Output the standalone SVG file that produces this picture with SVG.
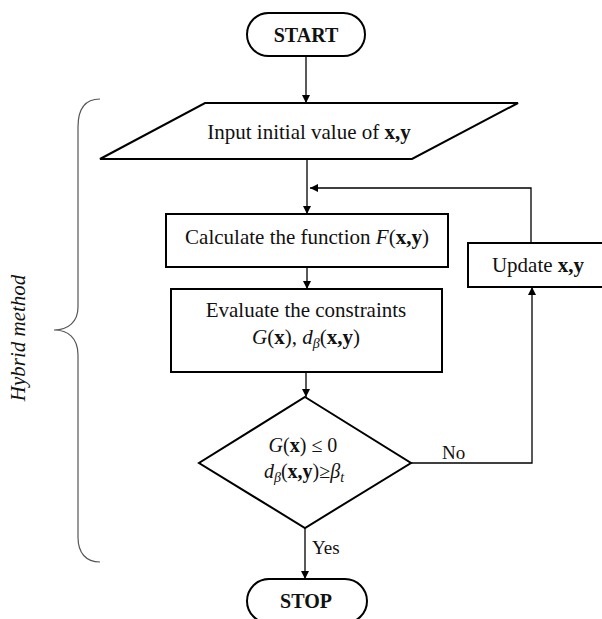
<svg xmlns="http://www.w3.org/2000/svg" width="602" height="619" viewBox="0 0 602 619">
<style>
.shape{fill:#fff;stroke:#000;stroke-width:2}
.conn{fill:none;stroke:#000;stroke-width:1.3}
.brace{fill:none;stroke:#555;stroke-width:1.2}
text{font-family:"Liberation Serif","Times New Roman",serif;font-size:21px;fill:#111}
.b{font-weight:bold}
.i{font-style:italic}
.sub{font-size:14px;font-style:italic}
.lbl{font-size:19px}
.dia{font-size:20px}
.term{font-size:20px;font-weight:bold}
</style>
<defs>
<marker id="ah" viewBox="0 0 10 10" refX="10" refY="5" markerWidth="8" markerHeight="8" markerUnits="userSpaceOnUse" orient="auto">
<path d="M0,0 L10,5 L0,10 z" fill="#000"/>
</marker>
</defs>
<g id="connectors">
<line class="conn" x1="306" y1="56" x2="306" y2="103" marker-end="url(#ah)"/>
<line class="conn" x1="307" y1="159" x2="307" y2="214" marker-end="url(#ah)"/>
<polyline class="conn" points="531,243 531,188 310,188" marker-end="url(#ah)"/>
<line class="conn" x1="307" y1="267" x2="307" y2="289" marker-end="url(#ah)"/>
<line class="conn" x1="306" y1="372" x2="306" y2="397" marker-end="url(#ah)"/>
<polyline class="conn" points="411,463 532,463 532,287" marker-end="url(#ah)"/>
<line class="conn" x1="305" y1="528" x2="305" y2="579" marker-end="url(#ah)"/>
<text x="442" y="459" class="lbl">No</text>
<text x="312" y="554" class="lbl">Yes</text>
</g>
<g id="start">
<rect class="shape" x="247" y="13" width="118" height="43" rx="21.5"/>
<text x="306" y="42" text-anchor="middle" class="term">START</text>
</g>
<g id="input">
<polygon class="shape" points="205,103 518,103 412,159 100,159"/>
<text x="309" y="139" text-anchor="middle">Input initial value of <tspan class="b">x,y</tspan></text>
</g>
<g id="calculate">
<rect class="shape" x="166" y="214" width="282" height="53"/>
<text x="307" y="244" text-anchor="middle">Calculate the function <tspan class="i">F</tspan>(<tspan class="b">x,y</tspan>)</text>
</g>
<g id="evaluate">
<rect class="shape" x="171" y="289" width="271" height="83"/>
<text x="306" y="317" text-anchor="middle">Evaluate the constraints</text>
<text x="306" y="344" text-anchor="middle"><tspan class="i">G</tspan>(<tspan class="b">x</tspan>), <tspan class="i">d</tspan><tspan class="sub" dy="4">β</tspan><tspan dy="-4">(</tspan><tspan class="b">x,y</tspan>)</text>
</g>
<g id="update">
<rect class="shape" x="468" y="243" width="140" height="44"/>
<text x="538" y="272" text-anchor="middle">Update <tspan class="b">x,y</tspan></text>
</g>
<g id="decision">
<polygon class="shape" points="305,397 411,463 305,528 199,463"/>
<text x="303" y="452" text-anchor="middle" class="dia"><tspan class="i">G</tspan>(<tspan class="b">x</tspan>) ≤ 0</text>
<text x="304" y="478" text-anchor="middle" class="dia"><tspan class="i">d</tspan><tspan class="sub" dy="4">β</tspan><tspan dy="-4">(</tspan><tspan class="b">x,y</tspan>)≥<tspan class="i">β</tspan><tspan class="sub" dy="4">t</tspan></text>
</g>
<g id="stop">
<rect class="shape" x="247" y="579" width="120" height="44" rx="22"/>
<text x="306" y="608" text-anchor="middle" class="term">STOP</text>
</g>
<g id="hybrid">
<path class="brace" d="M100,99 C86,99 78,108 78,127 L78,307 C78,322 68,330 54,330 C68,330 78,338 78,355 L78,537 C78,553 86,562 100,562"/>
<text transform="translate(25,338) rotate(-90)" text-anchor="middle" class="i">Hybrid method</text>
</g>
</svg>
